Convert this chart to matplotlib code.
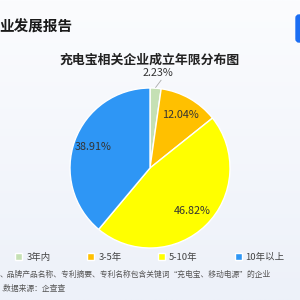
import numpy as np
import matplotlib
matplotlib.use("Agg")
import matplotlib.pyplot as plt
from matplotlib.patches import FancyBboxPatch

plt.rcParams["font.family"] = ["Noto Sans CJK SC", "DejaVu Sans"]

# ---- Data ----
categories = ["3年内", "3-5年", "5-10年", "10年以上"]
shares = [2.23, 12.04, 46.82, 38.91]
colors = ["#c5e0b4", "#ffc000", "#ffff00", "#2e96f5"]

W = H = 300
fig = plt.figure(figsize=(3, 3), dpi=100)

# background
bg = fig.add_axes([0, 0, 1, 1])
grad = np.linspace(0, 1, 256).reshape(-1, 1)
bg.imshow(grad, aspect="auto", extent=[0, 1, 0, 1], origin="upper",
          cmap=matplotlib.colors.LinearSegmentedColormap.from_list("bg", ["#fbfcfe", "#edf1f9"]))
bg.set_xlim(0, 1)
bg.set_ylim(0, 1)
bg.axis("off")

bg.add_patch(FancyBboxPatch((296 / W, 1 - 42 / H), 12 / W, 27 / H,
                            boxstyle="round,pad=0,rounding_size=0.01",
                            color="#1b6ef3", transform=fig.transFigure, clip_on=False))

fig.text(-1 / W, 1 - 27 / H, "业发展报告", fontsize=10.5, fontweight="bold",
         color="#1a1a1a", va="center", ha="left")
fig.text(0.5, 1 - 60 / H, "充电宝相关企业成立年限分布图", fontsize=9.3,
         fontweight="bold", color="#222222", va="center", ha="center")

# pie
cx, cy, r = 150, 168, 80
ax = fig.add_axes([(cx - r) / W, (H - cy - r) / H, 2 * r / W, 2 * r / H])
wedges, texts, autotexts = ax.pie(
    shares, colors=colors, startangle=90, counterclock=False,
    autopct="%.2f%%", pctdistance=0.76,
    wedgeprops=dict(edgecolor="white", linewidth=1.0),
    textprops=dict(fontsize=7.8, color="#333333"))
ax.set_xlim(-1, 1)
ax.set_ylim(-1, 1)

# small slice label outside with leader line
w0 = wedges[0]
mid = np.deg2rad((w0.theta1 + w0.theta2) / 2)
ax.plot([1.01 * np.cos(mid), 1.12 * np.cos(mid) + 0.06],
        [1.01 * np.sin(mid), 1.1 * np.sin(mid)], color="#aaaaaa", lw=0.6, clip_on=False)
autotexts[0].set_position((1.19 * np.cos(mid) + 0.02, 1.19 * np.sin(mid)))

fig.legend(wedges, categories, loc="center", bbox_to_anchor=(0.5, 1 - 257 / H),
           ncol=4, frameon=False, fontsize=6.8, handlelength=0.75, handleheight=0.75,
           handletextpad=0.4, columnspacing=3.9, labelcolor="#444444")

fig.text(0, 1 - 275 / H, "、品牌产品名称、专利摘要、专利名称包含关键词“充电宝、移动电源”的企业",
         fontsize=5.6, color="#555555", va="center", ha="left")
fig.text(1 / W, 1 - 289 / H, ".数据来源：企查查", fontsize=5.6, color="#555555",
         va="center", ha="left")

fig.savefig("out.png", dpi=100)
